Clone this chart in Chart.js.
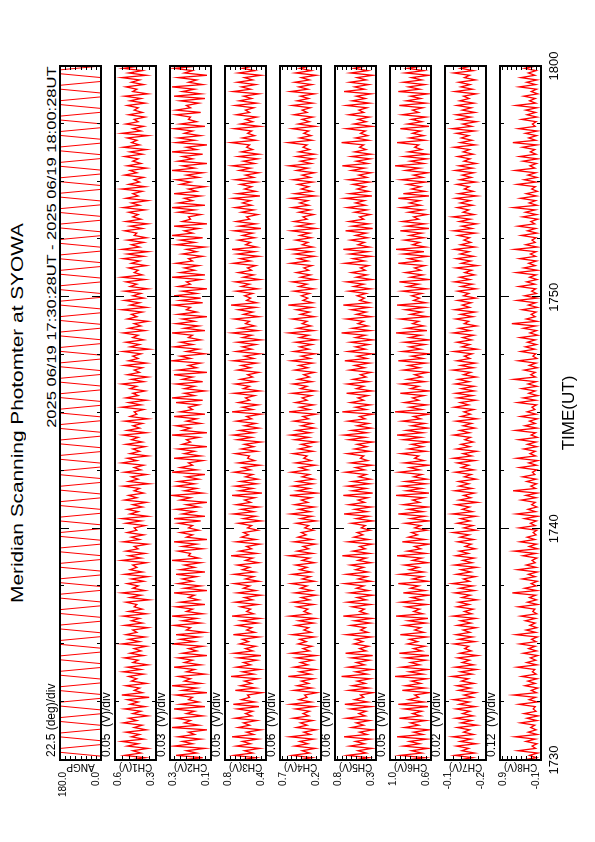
<!DOCTYPE html>
<html><head><meta charset="utf-8">
<script src="https://cdn.jsdelivr.net/npm/chart.js@4.4.0/dist/chart.umd.min.js"></script>
<style>
html,body{margin:0;padding:0;background:#fff;width:595px;height:842px;overflow:hidden;}
#land{position:absolute;left:0;top:0;width:842px;height:595px;transform-origin:0 0;transform:translate(0,842px) rotate(-90deg);font-family:"Liberation Sans",Arial,sans-serif;color:#000;}
canvas{position:absolute;left:0;}
#title{position:absolute;left:82px;width:694px;top:8px;text-align:center;font-size:16px;line-height:20px;}
#title span{display:inline-block;transform-origin:50% 50%;}
#sub{position:absolute;right:66px;top:44px;font-size:13px;line-height:15px;white-space:pre;transform-origin:100% 50%;}
.divlab{position:absolute;left:85px;font-size:12px;line-height:14px;white-space:pre;}
</style></head><body>
<div id="land">
 <div id="title"><span id="titletxt">Meridian Scanning Photomter at SYOWA</span></div>
 <div id="sub">2025 06/19 17:30:28UT - 2025 06/19 18:00:28UT</div>
</div>
<script>
// ---- axis / panel definitions ----
const PANEL_NAMES = ['ANGP','CH1(V)','CH2(V)','CH3(V)','CH4(V)','CH5(V)','CH6(V)','CH7(V)','CH8(V)'];
const Y_MIN = [0.0, 0.3, 0.1, 0.4, 0.2, 0.3, 0.6, -0.2, -0.1];
const Y_MAX = [180.0, 0.6, 0.3, 0.8, 0.7, 0.8, 1.0, -0.1, 0.9];
const Y_DIV = [22.5, 0.05, 0.03, 0.05, 0.06, 0.06, 0.05, 0.02, 0.12];
const DIV_TEXT = ['22.5 (deg)/div','0.05  (V)/div','0.03  (V)/div','0.05  (V)/div','0.06  (V)/div','0.06  (V)/div','0.05  (V)/div','0.02  (V)/div','0.12  (V)/div'];
const TIME_MIN = 0, TIME_MAX = 30;           // minutes after 17:30 UT
const TIME_TICKS = [0, 10, 20, 30];
const TIME_LABELS = ['1730','1740','1750','1800'];
const TIME_MINOR = 2.5, TIME_MAJOR = 10;

// ---- series values ----
const ANGP = [0,0,180,180,0,0,180,180,0,0,180,180,0,0,180,180,0,0,180,180,0,0,180,180,0,0,180,180,0,0,180,180,0,0,180,180,0,0,180,180,
0,0,180,180,0,0,180,180,0,0,180,180,0,0,180,180,0,0,180,180,0,0,180,180,0,0,180,180,0,0,180,180,0,0,180,180,0,0,180,180,
0,0,180,180,0,0,180,180,0,0,180,180,0,0,180,180,0,0,180,180,0,0,180,180,0,0,180,180,0,0,180,180,0,0,180,180,0,0,180,180,
0,0,180,180,0,0,180,180,0,0,180,180,0,0,180,180,0,0,180,180,0,0,180,180,0,0,180,180,0,0,180,180,0,0,180,180,0,0,180,180,
0,0,180,180,0,0,180,180,0,0,180,180,0,0,180,180,0,0,180,180,0];
const CH1 = [.49,.38,.53,.41,.47,.36,.51,.43,.55,.39,.48,.42,.52,.37,.46,.40,.54,.44,.50,.36,
.47,.41,.53,.38,.49,.43,.51,.35,.55,.40,.46,.42,.52,.37,.48,.44,.50,.39,.54,.41,
.51,.36,.47,.43,.53,.39,.49,.41,.46,.37,.55,.42,.50,.38,.52,.44,.47,.36,.53,.40,
.48,.42,.54,.37,.50,.40,.46,.44,.52,.35,.49,.41,.55,.38,.47,.43,.51,.39,.48,.36,
.53,.40,.49,.44,.47,.37,.55,.41,.50,.38,.52,.43,.46,.36,.54,.42,.48,.39,.51,.44,
.46,.38,.52,.41,.55,.36,.49,.43,.51,.40,.47,.37,.53,.44,.50,.39,.46,.42,.54,.35,
.50,.43,.48,.37,.53,.41,.46,.39,.55,.44,.51,.36,.49,.42,.47,.38,.52,.40,.48,.43,
.54,.37,.51,.42,.47,.40,.53,.36,.49,.44,.46,.39,.55,.41,.50,.37,.52,.43,.47,.38,
.49,.44,.55,.39,.48,.36,.51,.42,.46,.40,.53,.37,.50,.43,.47,.41,.54,.35,.49,.42,
.52,.39,.47,.43,.54,.38,.50,.41,.46,.36,.51,.44,.48,.40,.55,.37,.49,.42,.53,.39,
.47,.41,.53,.36,.49,.44,.52,.38,.55,.40,.46,.43,.50,.37,.48,.42,.54,.39,.51,.36,
.55,.42,.48,.39,.51,.37,.46,.44,.53,.40,.49,.36,.52,.41,.47,.43,.50,.38,.54,.42,
.48,.36,.52,.43,.47,.40,.55,.38,.50,.42,.46,.39,.53,.44,.49,.37,.51,.41,.47,.43,
.53,.40,.49,.37,.54,.42,.48,.44,.51,.36,.55,.41,.47,.39,.52,.43,.46,.38,.50,.40,
.46,.43,.51,.38,.49,.41,.53,.36,.47,.44,.52,.39,.48,.42,.55,.37,.50,.40,.54,.41];
const CH2 = [.25,.14,.27,.17,.22,.13,.28,.19,.24,.15,.26,.18,.21,.12,.29,.16,.23,.20,.27,.14,
.22,.18,.28,.13,.25,.16,.21,.19,.27,.12,.24,.17,.29,.15,.23,.20,.26,.13,.22,.18,
.28,.15,.23,.19,.26,.12,.24,.17,.21,.14,.29,.18,.25,.16,.27,.13,.22,.20,.28,.15,
.24,.17,.29,.14,.22,.19,.27,.13,.25,.16,.21,.18,.28,.12,.23,.15,.26,.19,.24,.17,
.27,.13,.25,.18,.23,.15,.29,.16,.21,.20,.26,.14,.24,.17,.28,.12,.22,.19,.25,.16,
.21,.19,.26,.15,.28,.13,.24,.18,.27,.16,.22,.12,.25,.20,.29,.14,.23,.17,.27,.18,
.26,.16,.22,.13,.29,.17,.25,.19,.21,.14,.28,.15,.23,.18,.26,.12,.24,.20,.22,.16,
.29,.12,.24,.20,.27,.15,.22,.17,.28,.13,.25,.19,.21,.16,.27,.14,.29,.18,.23,.13,
.23,.18,.27,.14,.24,.19,.28,.12,.26,.17,.21,.15,.29,.20,.25,.13,.22,.16,.28,.19,
.25,.15,.21,.19,.29,.13,.23,.16,.27,.18,.24,.12,.26,.17,.22,.20,.28,.14,.25,.15,
.28,.17,.24,.12,.26,.20,.22,.15,.29,.13,.25,.18,.23,.16,.27,.19,.21,.14,.24,.17,
.22,.13,.27,.18,.25,.14,.29,.19,.23,.16,.28,.12,.24,.20,.21,.15,.26,.18,.29,.13,
.26,.19,.23,.15,.28,.17,.21,.13,.25,.20,.27,.16,.22,.14,.29,.18,.24,.12,.26,.19,
.24,.14,.29,.17,.22,.12,.27,.18,.26,.15,.23,.19,.28,.13,.25,.17,.21,.20,.27,.15,
.27,.20,.22,.16,.25,.13,.28,.15,.24,.18,.29,.14,.21,.17,.26,.12,.23,.19,.28,.16];
const CH3 = [.66,.50,.71,.53,.61,.46,.69,.55,.63,.48,.73,.52,.59,.45,.67,.56,.62,.49,.70,.54,
.60,.53,.68,.47,.72,.51,.64,.56,.58,.44,.70,.50,.65,.54,.61,.48,.74,.52,.63,.46,
.69,.55,.62,.49,.67,.45,.71,.53,.60,.50,.66,.57,.63,.47,.72,.51,.59,.54,.68,.48,
.64,.46,.73,.52,.59,.55,.65,.48,.70,.53,.61,.45,.68,.50,.62,.56,.71,.47,.60,.52,
.71,.51,.63,.56,.68,.47,.60,.53,.74,.49,.66,.54,.59,.46,.69,.50,.64,.57,.62,.48,
.58,.54,.67,.45,.62,.50,.72,.52,.64,.47,.69,.55,.61,.51,.73,.44,.66,.53,.70,.49,
.65,.48,.60,.53,.71,.55,.63,.46,.67,.51,.58,.56,.70,.49,.64,.52,.61,.45,.68,.54,
.72,.52,.66,.47,.61,.50,.69,.54,.59,.45,.73,.53,.63,.48,.67,.56,.60,.51,.71,.46,
.62,.56,.70,.50,.65,.53,.58,.47,.68,.55,.64,.49,.72,.52,.61,.46,.69,.54,.63,.50,
.68,.45,.63,.54,.73,.48,.66,.51,.60,.56,.71,.47,.62,.53,.67,.50,.74,.49,.59,.55,
.61,.53,.69,.48,.64,.56,.70,.46,.62,.52,.67,.54,.58,.50,.72,.55,.65,.47,.68,.51,
.73,.49,.60,.55,.67,.51,.63,.53,.71,.45,.66,.50,.69,.56,.59,.48,.64,.52,.70,.54,
.63,.55,.72,.46,.68,.50,.61,.54,.65,.49,.70,.52,.60,.47,.66,.55,.73,.51,.62,.48,
.67,.47,.64,.53,.59,.56,.74,.50,.63,.51,.58,.54,.71,.46,.65,.53,.60,.49,.69,.56,
.60,.52,.70,.49,.66,.54,.62,.47,.72,.55,.64,.50,.68,.53,.61,.45,.67,.51,.63,.52];
const CH4 = [.48,.31,.55,.34,.43,.27,.52,.36,.46,.29,.58,.33,.41,.26,.50,.37,.45,.30,.54,.35,
.42,.34,.51,.28,.57,.32,.47,.37,.40,.25,.53,.31,.49,.35,.44,.29,.60,.33,.46,.27,
.53,.36,.45,.30,.50,.26,.56,.34,.42,.31,.48,.38,.46,.28,.55,.32,.41,.35,.51,.29,
.47,.27,.58,.33,.41,.36,.49,.29,.54,.34,.44,.26,.52,.31,.45,.37,.56,.28,.43,.33,
.55,.32,.46,.37,.51,.28,.43,.34,.59,.30,.49,.35,.42,.27,.53,.31,.48,.38,.44,.29,
.40,.35,.50,.26,.45,.31,.57,.33,.47,.28,.52,.36,.44,.32,.58,.25,.49,.34,.54,.30,
.49,.29,.43,.34,.56,.36,.46,.27,.51,.32,.41,.37,.54,.30,.47,.33,.44,.26,.52,.35,
.57,.33,.50,.28,.44,.31,.53,.35,.42,.26,.59,.34,.46,.29,.51,.37,.43,.32,.55,.27,
.45,.37,.54,.31,.48,.34,.41,.28,.52,.36,.47,.30,.56,.33,.44,.27,.53,.35,.46,.31,
.51,.26,.46,.35,.59,.29,.49,.32,.43,.37,.55,.28,.45,.34,.50,.31,.60,.30,.42,.36,
.44,.34,.53,.29,.47,.37,.55,.27,.45,.33,.50,.35,.41,.31,.57,.36,.48,.28,.52,.32,
.58,.30,.43,.36,.51,.32,.46,.34,.56,.26,.49,.31,.53,.37,.42,.29,.47,.33,.55,.35,
.46,.36,.57,.27,.52,.31,.44,.35,.48,.30,.54,.33,.43,.28,.50,.36,.59,.32,.45,.29,
.50,.28,.47,.34,.42,.37,.60,.31,.46,.32,.41,.35,.55,.27,.48,.34,.43,.30,.53,.37,
.43,.33,.55,.30,.49,.35,.45,.28,.57,.36,.47,.31,.52,.34,.44,.26,.51,.32,.46,.33];
const CH5 = [.58,.39,.65,.42,.52,.35,.62,.44,.55,.37,.69,.41,.50,.34,.60,.45,.54,.38,.66,.43,
.51,.42,.61,.36,.68,.40,.56,.45,.49,.34,.63,.39,.59,.43,.53,.37,.72,.41,.55,.35,
.64,.44,.54,.38,.60,.34,.67,.42,.50,.39,.57,.46,.55,.36,.66,.40,.49,.43,.61,.37,
.56,.35,.70,.41,.50,.44,.59,.37,.65,.42,.53,.34,.62,.39,.54,.45,.68,.36,.52,.41,
.66,.40,.55,.45,.61,.36,.52,.42,.71,.38,.58,.43,.50,.35,.64,.39,.57,.46,.53,.37,
.48,.43,.60,.34,.54,.39,.69,.41,.56,.36,.63,.44,.52,.40,.70,.34,.59,.42,.65,.38,
.59,.37,.51,.42,.67,.44,.55,.35,.61,.40,.49,.45,.65,.38,.56,.41,.53,.34,.63,.43,
.69,.41,.60,.36,.53,.39,.64,.43,.50,.34,.71,.42,.55,.37,.61,.45,.52,.40,.66,.35,
.54,.45,.65,.39,.58,.42,.49,.36,.62,.44,.56,.38,.68,.41,.53,.35,.64,.43,.55,.39,
.61,.34,.55,.43,.72,.37,.59,.40,.52,.45,.66,.36,.54,.42,.60,.39,.70,.38,.50,.44,
.53,.42,.63,.37,.57,.45,.66,.35,.54,.41,.60,.43,.49,.39,.68,.44,.58,.36,.62,.40,
.70,.38,.52,.44,.61,.40,.55,.42,.67,.34,.59,.39,.63,.45,.50,.37,.56,.41,.65,.43,
.55,.44,.68,.35,.62,.39,.53,.43,.58,.38,.64,.41,.51,.36,.60,.44,.71,.40,.54,.37,
.60,.36,.56,.42,.50,.45,.72,.39,.55,.40,.49,.43,.66,.35,.57,.42,.52,.38,.63,.45,
.51,.41,.66,.38,.59,.43,.54,.36,.69,.44,.56,.39,.62,.42,.53,.34,.61,.40,.57,.41];
const CH6 = [.84,.66,.90,.69,.79,.63,.87,.71,.81,.64,.93,.68,.77,.62,.86,.72,.80,.65,.91,.70,
.78,.69,.86,.63,.92,.67,.82,.72,.76,.62,.88,.66,.85,.70,.79,.64,.95,.68,.81,.63,
.89,.71,.80,.65,.85,.62,.91,.69,.77,.66,.83,.73,.81,.64,.90,.67,.76,.70,.86,.65,
.82,.63,.94,.68,.77,.71,.84,.64,.89,.69,.79,.62,.87,.66,.80,.72,.92,.63,.78,.68,
.90,.67,.81,.72,.86,.63,.78,.69,.93,.65,.83,.70,.76,.62,.88,.66,.82,.73,.79,.64,
.76,.70,.85,.62,.80,.66,.92,.68,.82,.63,.87,.71,.78,.67,.94,.62,.84,.69,.89,.65,
.85,.64,.77,.69,.91,.71,.81,.62,.86,.67,.76,.72,.89,.65,.82,.68,.79,.62,.87,.70,
.93,.68,.84,.63,.79,.66,.88,.70,.77,.62,.95,.69,.81,.64,.86,.72,.78,.67,.90,.62,
.80,.72,.89,.66,.83,.69,.76,.63,.87,.71,.82,.65,.92,.68,.79,.62,.88,.70,.81,.66,
.86,.62,.81,.70,.94,.64,.84,.67,.78,.72,.90,.63,.80,.69,.85,.66,.93,.65,.77,.71,
.79,.69,.88,.64,.83,.72,.91,.62,.80,.68,.85,.70,.76,.66,.92,.71,.82,.63,.87,.67,
.94,.65,.78,.71,.86,.67,.81,.69,.90,.62,.84,.66,.88,.72,.77,.64,.82,.68,.89,.70,
.81,.71,.92,.62,.87,.66,.79,.70,.83,.65,.89,.68,.77,.63,.85,.71,.95,.67,.80,.64,
.86,.63,.82,.69,.76,.72,.93,.66,.81,.67,.78,.70,.90,.62,.83,.69,.79,.65,.88,.72,
.78,.68,.91,.65,.84,.70,.80,.63,.92,.71,.82,.66,.87,.69,.79,.62,.85,.67,.83,.68];
const CH7 = [-.132,-.167,-.124,-.172,-.141,-.158,-.128,-.176,-.137,-.163,-.119,-.170,-.145,-.160,-.130,-.178,-.139,-.165,-.126,-.169,
-.143,-.161,-.127,-.174,-.135,-.159,-.121,-.168,-.146,-.175,-.133,-.162,-.129,-.171,-.140,-.157,-.117,-.166,-.138,-.177,
-.125,-.170,-.142,-.160,-.131,-.179,-.136,-.164,-.148,-.158,-.122,-.173,-.134,-.167,-.127,-.161,-.144,-.176,-.130,-.163,
-.138,-.175,-.120,-.165,-.147,-.169,-.129,-.159,-.133,-.178,-.141,-.162,-.124,-.172,-.136,-.168,-.118,-.160,-.145,-.174,
-.128,-.163,-.139,-.177,-.123,-.166,-.143,-.171,-.126,-.157,-.135,-.174,-.149,-.164,-.131,-.170,-.137,-.159,-.120,-.176,
-.146,-.168,-.130,-.161,-.138,-.175,-.118,-.167,-.142,-.160,-.127,-.179,-.135,-.163,-.145,-.172,-.124,-.166,-.134,-.158,
-.133,-.176,-.147,-.164,-.125,-.170,-.140,-.158,-.130,-.173,-.121,-.165,-.144,-.177,-.128,-.161,-.139,-.169,-.148,-.162,
-.121,-.160,-.136,-.173,-.144,-.165,-.127,-.178,-.139,-.162,-.146,-.170,-.123,-.158,-.137,-.175,-.131,-.167,-.126,-.171,
-.140,-.171,-.125,-.159,-.132,-.176,-.145,-.163,-.119,-.169,-.138,-.174,-.129,-.161,-.147,-.166,-.122,-.178,-.141,-.160,
-.129,-.165,-.143,-.170,-.120,-.162,-.134,-.177,-.147,-.158,-.126,-.168,-.138,-.173,-.124,-.160,-.142,-.164,-.131,-.175,
-.145,-.158,-.131,-.176,-.139,-.167,-.123,-.161,-.136,-.172,-.148,-.165,-.127,-.179,-.140,-.163,-.128,-.170,-.137,-.159,
-.124,-.173,-.138,-.163,-.146,-.160,-.132,-.174,-.121,-.166,-.141,-.177,-.135,-.162,-.119,-.171,-.144,-.158,-.130,-.168,
-.137,-.162,-.126,-.178,-.133,-.169,-.147,-.159,-.129,-.175,-.136,-.164,-.142,-.170,-.125,-.167,-.134,-.176,-.146,-.161,
-.131,-.169,-.144,-.160,-.122,-.174,-.137,-.166,-.140,-.158,-.128,-.172,-.118,-.165,-.143,-.177,-.132,-.163,-.127,-.173,
-.142,-.164,-.129,-.171,-.136,-.159,-.145,-.176,-.124,-.167,-.139,-.161,-.133,-.174,-.147,-.160,-.121,-.169,-.138,-.165];
const CH8 = [.35,.01,.18,-.02,.46,.03,.12,.00,.27,.04,.53,-.01,.21,.02,.15,.05,.40,.00,.24,-.03,
.31,.02,.09,.04,.44,-.01,.19,.03,.57,.01,.14,-.02,.29,.04,.22,.00,.37,.02,.11,.05,
.48,.00,.25,.03,.16,-.02,.33,.01,.20,.04,.42,.02,.13,-.01,.51,.03,.26,.00,.17,.04,
.28,.03,.39,.00,.10,.05,.45,-.02,.23,.01,.18,.03,.60,.00,.30,.02,.14,-.01,.36,.04,
.21,-.01,.47,.02,.26,.04,.12,.00,.34,.03,.55,-.02,.19,.01,.41,.05,.24,.02,.09,.00,
.43,.04,.16,.01,.30,-.02,.50,.03,.22,.00,.13,.04,.38,.02,.27,-.01,.58,.03,.15,.01,
.25,.02,.35,.05,.11,.00,.42,.01,.20,-.02,.49,.03,.17,.04,.32,.00,.23,.02,.44,-.01,
.14,.03,.52,.00,.29,.04,.18,-.01,.40,.02,.24,.05,.12,.01,.47,.03,.33,-.02,.20,.04,
.37,.00,.22,.02,.56,.03,.15,.04,.31,-.01,.19,.02,.45,.00,.10,.03,.39,.05,.28,.01,
.23,.04,.41,-.02,.17,.01,.33,.03,.61,.00,.26,.04,.14,.02,.36,-.01,.21,.03,.48,.00,
.30,.01,.13,.03,.44,.05,.25,.00,.18,.02,.50,-.01,.32,.04,.20,.01,.42,.03,.16,.02,
.54,-.01,.27,.04,.12,.02,.38,.00,.23,.03,.46,.05,.15,-.02,.35,.01,.28,.04,.57,.00,
.19,.03,.40,.01,.26,-.01,.13,.04,.48,.02,.31,.00,.22,.03,.53,.05,.17,.01,.34,-.02,
.42,.02,.16,.05,.35,.00,.59,.03,.20,.01,.28,-.01,.45,.04,.11,.02,.37,.00,.24,.03,
.27,.00,.51,.03,.18,.04,.32,-.02,.14,.01,.43,.03,.25,.00,.39,.05,.21,.02,.30,.01];
const SERIES = [ANGP, CH1, CH2, CH3, CH4, CH5, CH6, CH7, CH8];

// ---- layout (landscape frame, rotated onto the portrait page) ----
const PLOT_LEFT = 82, PLOT_RIGHT_PAD = 66, PANEL_TOP0 = 60, PANEL_PITCH = 55, PANEL_H = 41, PAD_TOP = 8, XAXIS_H = 40;
const FONT = '"Liberation Sans", Arial, sans-serif';
Chart.defaults.font.family = FONT;
Chart.defaults.color = '#000';

// stretch title texts horizontally like the original PostScript fonts
const tt = document.getElementById('titletxt');
tt.style.transform = 'scaleX(' + (380 / tt.offsetWidth).toFixed(3) + ')';
const st = document.getElementById('sub');
st.style.transform = 'scaleX(' + (362 / st.offsetWidth).toFixed(3) + ')';

const deco = {
  id: 'deco',
  afterDatasetsDraw(chart, args, o) {
    const {ctx, chartArea: a, scales: {x, y}} = chart;
    ctx.save();
    ctx.strokeStyle = '#000';
    ctx.lineWidth = 1;
    ctx.beginPath();
    for (let t = TIME_MIN; t <= TIME_MAX + 1e-9; t += TIME_MINOR) {
      const px = Math.round(x.getPixelForValue(t)) + 0.5;
      const len = (Math.abs(t % TIME_MAJOR) < 1e-9) ? 9 : 4;
      ctx.moveTo(px, a.top); ctx.lineTo(px, a.top + len);
      ctx.moveTo(px, a.bottom); ctx.lineTo(px, a.bottom - len);
    }
    for (let v = o.min + o.div; v < o.max - o.div * 0.3; v += o.div) {
      const py = Math.round(y.getPixelForValue(v)) + 0.5;
      ctx.moveTo(a.left, py); ctx.lineTo(a.left + 4, py);
      ctx.moveTo(a.right, py); ctx.lineTo(a.right - 4, py);
    }
    ctx.stroke();
    ctx.lineWidth = 2;
    ctx.strokeRect(a.left, a.top, a.right - a.left, a.bottom - a.top);
    ctx.fillStyle = '#000';
    // y tick labels (max near the top edge, min just above the bottom edge)
    ctx.font = '10px ' + FONT;
    ctx.textAlign = 'right';
    ctx.textBaseline = 'middle';
    ctx.fillText(o.max.toFixed(1), a.left - 12, y.getPixelForValue(o.max) + 3.5);
    ctx.fillText(o.min.toFixed(1), a.left - 12, y.getPixelForValue(o.min) - 5);
    // y axis name, vertical, between the labels and the frame
    ctx.translate(a.left - 6.5, (a.top + a.bottom) / 2);
    ctx.rotate(-Math.PI / 2);
    ctx.textAlign = 'center';
    ctx.fillText(o.name, 0, 0);
    ctx.restore();
  }
};

const land = document.getElementById('land');
SERIES.forEach((vals, k) => {
  const last = k === SERIES.length - 1;
  const h = last ? PAD_TOP + PANEL_H + XAXIS_H : PANEL_PITCH;
  const cv = document.createElement('canvas');
  cv.width = 842; cv.height = h;
  cv.style.width = '842px'; cv.style.height = h + 'px';
  cv.style.top = (PANEL_TOP0 + PANEL_PITCH * k - PAD_TOP) + 'px';
  land.appendChild(cv);

  const lab = document.createElement('div');
  lab.className = 'divlab';
  lab.style.top = (PANEL_TOP0 + PANEL_PITCH * k - 16) + 'px';
  lab.textContent = DIV_TEXT[k];
  land.appendChild(lab);

  const pts = vals.map((v, i) => ({x: TIME_MIN + i * (TIME_MAX - TIME_MIN) / (vals.length - 1), y: v}));
  new Chart(cv, {
    type: 'line',
    data: {datasets: [{data: pts, borderColor: '#ff0000', borderWidth: k === 0 ? 1 : 1.3, pointRadius: 0, tension: 0, fill: false}]},
    options: {
      responsive: false, animation: false, events: [],
      layout: {padding: {left: 0, right: PLOT_RIGHT_PAD, top: PAD_TOP, bottom: last ? 0 : (h - PAD_TOP - PANEL_H)}},
      plugins: {legend: {display: false}, tooltip: {enabled: false},
        deco: {name: PANEL_NAMES[k], min: Y_MIN[k], max: Y_MAX[k], div: Y_DIV[k]}},
      scales: {
        x: {
          type: 'linear', min: TIME_MIN, max: TIME_MAX, display: last,
          grid: {display: false, drawTicks: false, tickLength: 0}, border: {display: false},
          afterBuildTicks: s => { s.ticks = TIME_TICKS.map(v => ({value: v})); },
          afterFit: s => { if (last) s.height = XAXIS_H; },
          ticks: {padding: 6, maxRotation: 0, autoSkip: false, font: {size: 13},
            callback: (v) => TIME_LABELS[TIME_TICKS.indexOf(v)]},
          title: {display: true, text: 'TIME(UT)', font: {size: 17}, padding: {top: 0, bottom: 1}}
        },
        y: {
          type: 'linear', min: Y_MIN[k], max: Y_MAX[k],
          grid: {display: false, drawTicks: false, tickLength: 0}, border: {display: false},
          afterFit: s => { s.width = PLOT_LEFT; },
          ticks: {display: false}
        }
      }
    },
    plugins: [deco]
  });
});
</script>
</body></html>
